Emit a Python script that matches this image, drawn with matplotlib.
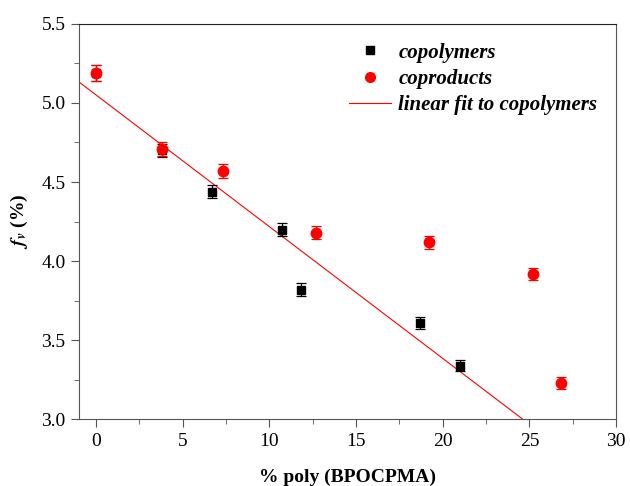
import numpy as np
import matplotlib.pyplot as plt
from matplotlib.ticker import MultipleLocator
from matplotlib.lines import Line2D

plt.rcParams['font.family'] = 'Liberation Serif'
plt.rcParams['mathtext.fontset'] = 'stix'

# copolymers
x_copo = [0.0, 3.8, 6.7, 10.7, 11.8, 18.7, 21.0]
y_copo = [5.19, 4.70, 4.44, 4.20, 3.82, 3.61, 3.34]
e_copo = [0.05, 0.04, 0.04, 0.04, 0.04, 0.04, 0.035]

# coproducts
x_prod = [0.0, 3.8, 7.3, 12.7, 19.2, 25.2, 26.8]
y_prod = [5.19, 4.71, 4.57, 4.18, 4.12, 3.92, 3.23]
e_prod = [0.05, 0.045, 0.045, 0.04, 0.04, 0.04, 0.035]

slope, icpt = np.polyfit(x_copo, y_copo, 1)

fig = plt.figure(figsize=(6.3, 4.86), dpi=100)
ax = fig.add_axes([0.125, 0.137, 0.853, 0.814])

xf = np.array([-1, 30])
ax.plot(xf, icpt + slope*xf, color='red', lw=0.8, zorder=1)
ax.errorbar(x_copo, y_copo, yerr=e_copo, fmt='s', color='black', ms=6,
            capsize=3.5, elinewidth=0.9, capthick=0.9, zorder=2)
ax.errorbar(x_prod, y_prod, yerr=e_prod, fmt='o', color='red', ms=7.5,
            capsize=3.5, elinewidth=0.9, capthick=0.9, zorder=3)

ax.set_xlim(-1, 30)
ax.set_ylim(3.0, 5.5)
ax.xaxis.set_major_locator(MultipleLocator(5))
ax.xaxis.set_minor_locator(MultipleLocator(2.5))
ax.yaxis.set_major_locator(MultipleLocator(0.5))
ax.yaxis.set_minor_locator(MultipleLocator(0.25))
ax.yaxis.set_major_formatter(plt.FormatStrFormatter('%.1f'))
ax.tick_params(which='both', direction='out', top=False, right=False, labelsize=14, color='#555555')
ax.tick_params(which='major', length=6)
ax.tick_params(which='minor', length=3.5)
for s in ['left', 'bottom', 'right']:
    ax.spines[s].set_color('#555555')
ax.spines['top'].set_color('#222222')

ax.set_xlabel('% poly (BPOCPMA)', fontsize=14, fontweight='bold', labelpad=14)
ax.set_ylabel(r'$\mathbfit{f}_{\mathbfit{v}}$ (%)', fontsize=14, fontweight='bold', labelpad=8)

handles = [
    Line2D([], [], ls='none', marker='s', color='black', ms=6),
    Line2D([], [], ls='none', marker='o', color='red', ms=7),
    Line2D([], [], color='red', lw=0.8),
]
labels = ['copolymers', 'coproducts', 'linear fit to copolymers']
ax.legend(handles, labels, loc='upper right', frameon=False,
          prop={'style': 'italic', 'weight': 'bold', 'size': 15},
          bbox_to_anchor=(1.0, 1.0), handlelength=2.0, handletextpad=0.35,
          labelspacing=0.3)

fig.savefig('out.png', dpi=100)
